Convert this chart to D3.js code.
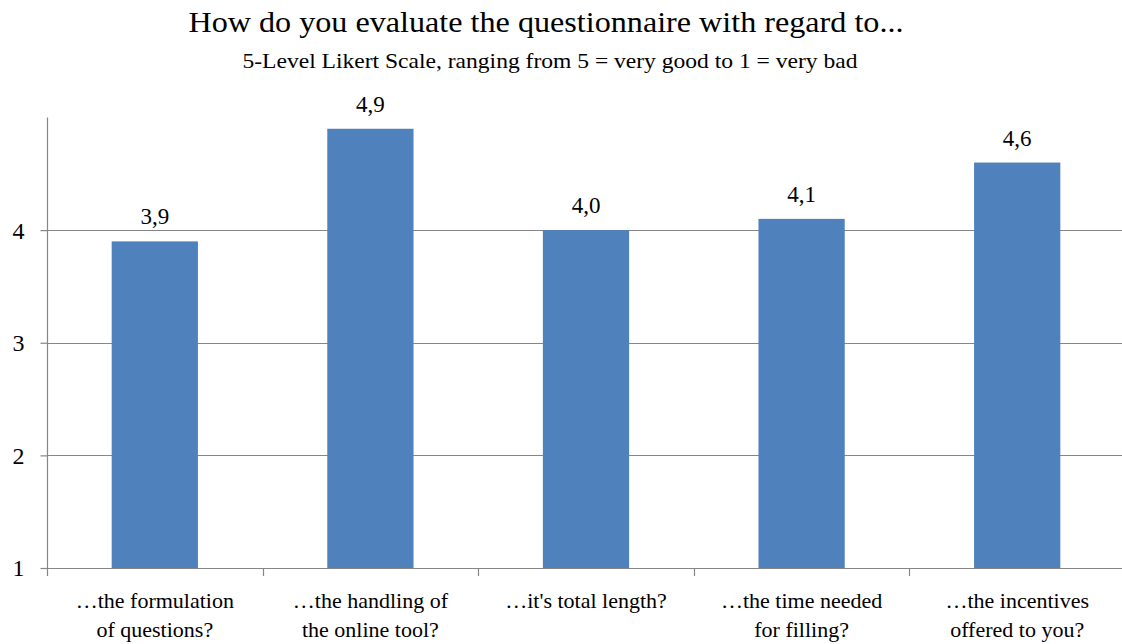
<!DOCTYPE html>
<html><head><meta charset="utf-8">
<script src="https://cdn.jsdelivr.net/npm/d3@7"></script>
<style>
body{margin:0;background:#fff;font-family:"Liberation Serif","Times New Roman",Tinos,serif}
svg{display:block}
svg text{font-family:"Liberation Serif","Times New Roman",Tinos,serif !important}
</style>
</head><body>
<svg id="c" width="1122" height="644" font-family="Liberation Serif, Times New Roman, serif"></svg>
<script>
const categories = [["…the formulation","of questions?"],["…the handling of","the online tool?"],["…it's total length?"],["…the time needed","for filling?"],["…the incentives","offered to you?"]];
const values = [3.9, 4.9, 4.0, 4.1, 4.6];
const valueLabels = ["3,9","4,9","4,0","4,1","4,6"];
const yTicks = [1,2,3,4];

const FONT = "Liberation Serif, Times New Roman, serif";
const svg = d3.select("#c");
const x = d3.scaleBand().domain(d3.range(values.length)).range([47, 1125]).paddingInner(0.6).paddingOuter(0.3);
const y = d3.scaleLinear().domain([1,5]).range([568, 117.5]);
const grid = "#868686";

function T(sel){ return sel.attr("font-family",FONT).style("font-family",FONT).attr("fill","#000"); }

T(svg.append("text")).attr("x",546).attr("y",32).attr("text-anchor","middle").attr("font-size",30).attr("textLength",715).attr("lengthAdjust","spacingAndGlyphs").text("How do you evaluate the questionnaire with regard to...");
T(svg.append("text")).attr("x",550).attr("y",68).attr("text-anchor","middle").attr("font-size",21).attr("textLength",615).attr("lengthAdjust","spacingAndGlyphs").text("5-Level Likert Scale, ranging from 5 = very good to 1 = very bad");

// gridlines
svg.append("g").selectAll("line").data(yTicks.slice(1)).join("line")
  .attr("x1",47).attr("x2",1122).attr("y1",d=>Math.round(y(d))+0.5).attr("y2",d=>Math.round(y(d))+0.5)
  .attr("stroke",grid).attr("stroke-width",1.2);

// bars
svg.append("g").selectAll("rect").data(values).join("rect")
  .attr("x",(d,i)=>x(i)).attr("width",x.bandwidth())
  .attr("y",d=>y(d)).attr("height",d=>y(1)-y(d)).attr("fill","#4F81BD");

// value labels
T(svg.append("g").selectAll("text").data(values).join("text"))
  .attr("x",(d,i)=>x(i)+x.bandwidth()/2).attr("y",d=>y(d)-17)
  .attr("text-anchor","middle").attr("font-size",23).text((d,i)=>valueLabels[i]);

// y axis
const yAxis = d3.axisLeft(y).tickValues(yTicks).tickSize(7).tickFormat(d3.format("d"));
const ga = svg.append("g").attr("transform","translate(47.5,0)").call(yAxis);
ga.attr("font-family",FONT).attr("font-size",24);
ga.select(".domain").attr("stroke",grid).attr("stroke-width",1.2).attr("d","M0,117.5V568.5");
ga.selectAll(".tick line").attr("stroke",grid).attr("stroke-width",1.2);
T(ga.selectAll(".tick text")).attr("font-size",24).attr("x",-23).attr("dy","0.33em");

// x axis
const bx = svg.append("g");
bx.append("line").attr("x1",47).attr("x2",1122).attr("y1",568.5).attr("y2",568.5).attr("stroke",grid).attr("stroke-width",1.2);
const edges = d3.range(values.length+1).map(i=>47 + i*x.step());
bx.selectAll("line.t").data(edges).join("line").attr("class","t")
  .attr("x1",d=>Math.round(d)+0.5).attr("x2",d=>Math.round(d)+0.5).attr("y1",568).attr("y2",576).attr("stroke",grid).attr("stroke-width",1.2);

const cl = T(svg.append("g").selectAll("text").data(categories).join("text"))
  .attr("x",(d,i)=>x(i)+x.bandwidth()/2).attr("y",608).attr("text-anchor","middle").attr("font-size",22);
cl.selectAll("tspan").data(d=>d).join("tspan").attr("x",function(){return this.parentNode.getAttribute("x");}).attr("dy",(d,j)=>j?28.5:0).text(d=>d);
</script></body></html>
